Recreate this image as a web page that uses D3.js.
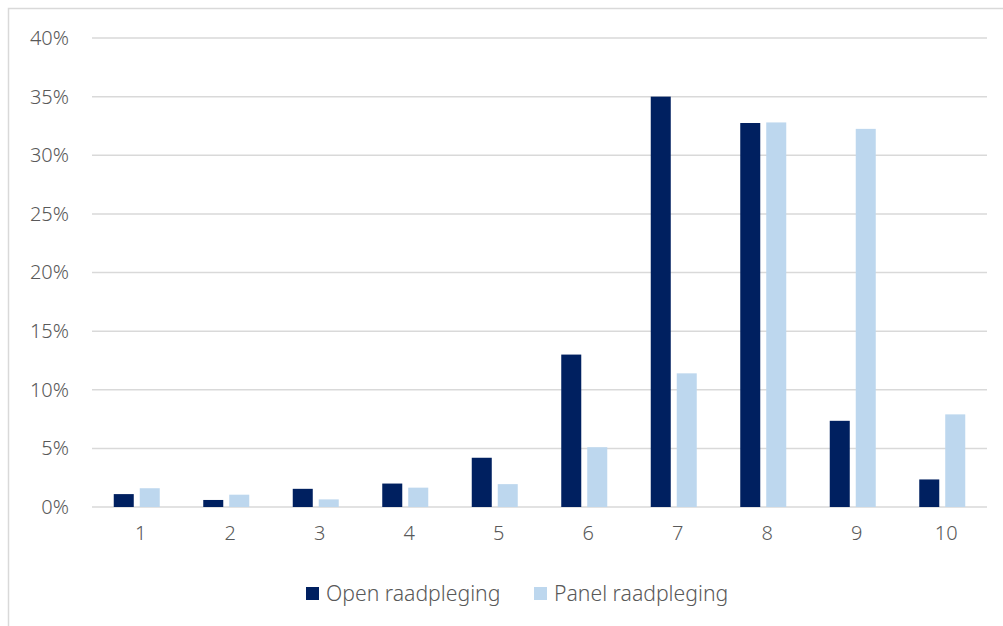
<!DOCTYPE html>
<html>
<head>
	<title>Open vs panel raadpleging</title>
	<script src="https://d3js.org/d3.v7.min.js"></script>
	<style>
		body { margin: 0; background: #fff; }
		text { font-family: "Noto Sans", sans-serif; font-weight: 300; fill: #595959; }
	</style>
</head>
<body>
	<script>
		// Data
		var categories = ["1", "2", "3", "4", "5", "6", "7", "8", "9", "10"];
		var seriesNames = ["Open raadpleging", "Panel raadpleging"];
		var openValues = [1.1, 0.6, 1.55, 2.0, 4.2, 13.0, 35.0, 32.75, 7.35, 2.35];
		var panelValues = [1.6, 1.05, 0.65, 1.65, 1.95, 5.1, 11.4, 32.8, 32.25, 7.9];
		var yTicks = [0, 5, 10, 15, 20, 25, 30, 35, 40];
		var colors = ["#002060", "#BDD7EE"];

		var W = 1003, H = 626;
		var margin = {top: 38, right: 16, bottom: 119, left: 92};

		var svg = d3.select("body")
		  .append("svg")
		    .attr("width", W)
		    .attr("height", H);

		// chart border (only top and left visible)
		svg.append("rect")
		    .attr("x", 8.5).attr("y", 8.5)
		    .attr("width", 1100).attr("height", 800)
		    .attr("fill", "none")
		    .attr("stroke", "#D9D9D9")
		    .attr("stroke-width", 1.5);

		var x0 = d3.scaleBand()
		    .domain(categories)
		    .range([margin.left, W - margin.right])
		    .padding(0);

		var x1 = d3.scaleBand()
		    .domain(seriesNames)
		    .range([-23, 23])
		    .paddingInner(0.23)
		    .paddingOuter(0);

		var y = d3.scaleLinear()
		    .domain([0, 40])
		    .range([H - margin.bottom, margin.top]);

		// gridlines
		svg.append("g")
		  .selectAll("line")
		  .data(yTicks)
		  .enter().append("line")
		    .attr("x1", margin.left)
		    .attr("x2", W - margin.right)
		    .attr("y1", function(d) { return y(d); })
		    .attr("y2", function(d) { return y(d); })
		    .attr("stroke", "#D9D9D9")
		    .attr("stroke-width", 1.5);

		// y axis labels
		var yAxis = svg.append("g")
		    .attr("transform", "translate(" + (margin.left - 23) + ",0)")
		    .call(d3.axisLeft(y).tickValues(yTicks).tickSize(0).tickPadding(0)
		      .tickFormat(function(d) { return d + "%"; }));
		yAxis.select(".domain").remove();
		yAxis.selectAll("text")
		    .style("font-size", "20px")
		    .attr("fill", "#595959");

		// x axis labels
		var xAxis = svg.append("g")
		    .attr("transform", "translate(4," + (H - margin.bottom) + ")")
		    .call(d3.axisBottom(x0).tickSize(0).tickPadding(19));
		xAxis.select(".domain").remove();
		xAxis.selectAll("text")
		    .style("font-size", "20px")
		    .attr("fill", "#595959");

		// bars
		var rows = categories.map(function(c, i) {
		  return {cat: c, vals: [openValues[i], panelValues[i]]};
		});

		var groups = svg.append("g")
		  .selectAll("g")
		  .data(rows)
		  .enter().append("g")
		    .attr("transform", function(d) {
		      return "translate(" + (x0(d.cat) + x0.bandwidth() / 2) + ",0)";
		    });

		groups.selectAll("rect")
		    .data(function(d) {
		      return d.vals.map(function(v, j) { return {name: seriesNames[j], value: v, idx: j}; });
		    })
		    .enter().append("rect")
		      .attr("x", function(d) { return x1(d.name); })
		      .attr("width", x1.bandwidth())
		      .attr("y", function(d) { return y(d.value); })
		      .attr("height", function(d) { return y(0) - y(d.value); })
		      .attr("fill", function(d) { return colors[d.idx]; });

		// legend
		var legendX = [306, 534];
		var legend = svg.append("g")
		  .selectAll("g")
		  .data(seriesNames)
		  .enter().append("g")
		    .attr("transform", function(d, i) { return "translate(" + legendX[i] + ",587)"; });

		legend.append("rect")
		    .attr("width", 13)
		    .attr("height", 13)
		    .attr("fill", function(d, i) { return colors[i]; });

		legend.append("text")
		    .attr("x", 20)
		    .attr("y", 6.5)
		    .attr("dy", "0.35em")
		    .style("font-size", "21.2px")
		    .text(function(d) { return d; });
	</script>
</body>
</html>
